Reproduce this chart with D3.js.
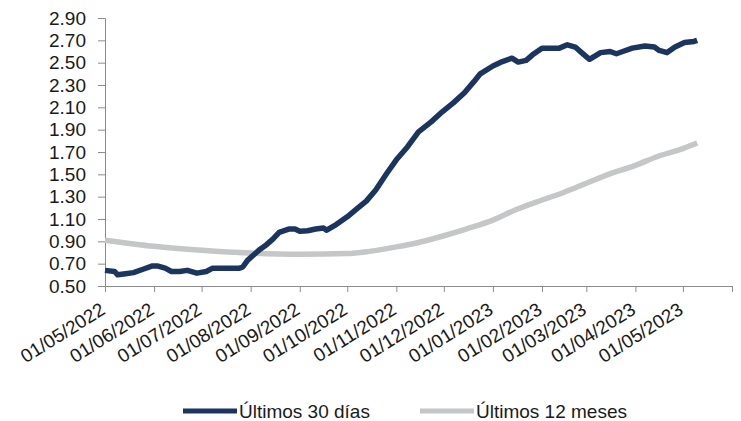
<!DOCTYPE html>
<html>
<head>
<meta charset="utf-8">
<script src="https://cdn.jsdelivr.net/npm/d3@7/dist/d3.min.js"></script>
<style>
  html, body { margin: 0; padding: 0; background: #fff; }
  svg { display: block; }
  text { font-family: "Liberation Sans", Arial, sans-serif; fill: #1a1a1a; }
</style>
</head>
<body>
<svg id="chart" width="741" height="421"></svg>
<script>
// ---- Data ----
const seriesNames = ["Últimos 30 días", "Últimos 12 meses"];

const dates30 = ["2022-05-01","2022-05-07","2022-05-09","2022-05-14","2022-05-19","2022-05-25","2022-05-31","2022-06-03","2022-06-08","2022-06-12","2022-06-17","2022-06-22","2022-06-28","2022-07-04","2022-07-08","2022-07-25","2022-07-27","2022-07-30","2022-08-03","2022-08-07","2022-08-11","2022-08-15","2022-08-19","2022-08-25","2022-08-29","2022-09-01","2022-09-06","2022-09-11","2022-09-16","2022-09-18","2022-09-24","2022-10-01","2022-10-07","2022-10-13","2022-10-19","2022-10-26","2022-11-01","2022-11-08","2022-11-15","2022-11-23","2022-11-30","2022-12-07","2022-12-14","2022-12-20","2022-12-24","2023-01-01","2023-01-07","2023-01-13","2023-01-17","2023-01-22","2023-01-26","2023-02-01","2023-02-12","2023-02-17","2023-02-22","2023-02-26","2023-03-03","2023-03-10","2023-03-16","2023-03-20","2023-03-24","2023-03-30","2023-04-07","2023-04-13","2023-04-16","2023-04-21","2023-04-26","2023-05-02","2023-05-08","2023-05-10"];
const values30 = [0.64,0.63,0.60,0.61,0.62,0.65,0.68,0.68,0.66,0.63,0.63,0.64,0.615,0.63,0.66,0.66,0.67,0.73,0.78,0.83,0.87,0.92,0.98,1.01,1.01,0.99,0.995,1.01,1.02,1.00,1.05,1.12,1.19,1.26,1.36,1.51,1.63,1.745,1.88,1.97,2.06,2.14,2.23,2.33,2.40,2.47,2.51,2.54,2.505,2.52,2.57,2.63,2.63,2.66,2.64,2.59,2.53,2.59,2.60,2.58,2.60,2.63,2.65,2.64,2.61,2.59,2.64,2.68,2.69,2.70];

const dates12 = ["2022-05-01","2022-06-01","2022-07-01","2022-08-01","2022-09-01","2022-10-01","2022-10-15","2022-11-01","2022-11-15","2022-12-01","2022-12-15","2023-01-01","2023-01-15","2023-02-01","2023-02-15","2023-03-01","2023-03-15","2023-04-01","2023-04-15","2023-05-01","2023-05-10"];
const values12 = [0.91,0.855,0.82,0.795,0.785,0.79,0.81,0.85,0.89,0.95,1.01,1.09,1.18,1.27,1.34,1.42,1.50,1.58,1.66,1.73,1.78];

const yTicks = [0.50,0.70,0.90,1.10,1.30,1.50,1.70,1.90,2.10,2.30,2.50,2.70,2.90];
const xTickDates = ["2022-05-01","2022-06-01","2022-07-01","2022-08-01","2022-09-01","2022-10-01","2022-11-01","2022-12-01","2023-01-01","2023-02-01","2023-03-01","2023-04-01","2023-05-01","2023-06-01"];
const xTickLabels = ["01/05/2022","01/06/2022","01/07/2022","01/08/2022","01/09/2022","01/10/2022","01/11/2022","01/12/2022","01/01/2023","01/02/2023","01/03/2023","01/04/2023","01/05/2023",""];

// ---- Layout ----
const parse = d3.utcParse("%Y-%m-%d");
const svg = d3.select("#chart");
const mLeft = 105, mRight = 732, mTop = 18, mBottom = 286;

const x = d3.scaleUtc().domain([parse("2022-05-01"), parse("2023-06-01")]).range([mLeft, mRight]);
const y = d3.scaleLinear().domain([0.5, 2.9]).range([mBottom, mTop]);

const axisColor = "#8c8c8c";

// Y axis
const yAxis = svg.append("g").attr("transform", `translate(${mLeft},0)`)
  .call(d3.axisLeft(y).tickValues(yTicks).tickFormat(d3.format(".2f")).tickSize(7).tickPadding(12));
yAxis.select(".domain").attr("stroke", axisColor);
yAxis.selectAll(".tick line").attr("stroke", axisColor);
yAxis.selectAll(".tick text").attr("font-size", 19).attr("font-family", "Liberation Sans, Arial, sans-serif").attr("fill", "#1a1a1a");

// X axis
const xAxis = svg.append("g").attr("transform", `translate(0,${mBottom})`)
  .call(d3.axisBottom(x).tickValues(xTickDates.map(parse)).tickFormat((d, i) => xTickLabels[i]).tickSize(6).tickSizeOuter(0));
xAxis.select(".domain").attr("stroke", axisColor);
xAxis.selectAll(".tick line").attr("stroke", axisColor);
xAxis.selectAll(".tick text")
  .attr("font-size", 19)
  .attr("font-family", "Liberation Sans, Arial, sans-serif")
  .attr("fill", "#1a1a1a")
  .attr("text-anchor", "end")
  .attr("dy", null)
  .attr("y", 0)
  .attr("transform", "translate(1,27) rotate(-32)");

// Lines
const data30 = dates30.map((d, i) => ({ date: parse(d), value: values30[i] }));
const data12 = dates12.map((d, i) => ({ date: parse(d), value: values12[i] }));

const line30 = d3.line().x(d => x(d.date)).y(d => y(d.value)).curve(d3.curveLinear);
const line12 = d3.line().x(d => x(d.date)).y(d => y(d.value)).curve(d3.curveMonotoneX);

const c30 = "#1c355e", c12 = "#c4c6c8";

svg.append("path").datum(data12).attr("d", line12)
  .attr("fill", "none").attr("stroke", c12).attr("stroke-width", 5.5).attr("stroke-linejoin", "round");
svg.append("path").datum(data30).attr("d", line30)
  .attr("fill", "none").attr("stroke", c30).attr("stroke-width", 5.5).attr("stroke-linejoin", "round");

// Legend
const legend = [
  { name: seriesNames[0], color: c30, x0: 183 },
  { name: seriesNames[1], color: c12, x0: 420 }
];
const lg = svg.append("g");
legend.forEach(l => {
  lg.append("line").attr("x1", l.x0).attr("x2", l.x0 + 54).attr("y1", 411).attr("y2", 411)
    .attr("stroke", l.color).attr("stroke-width", 5);
  lg.append("text").attr("x", l.x0 + 56).attr("y", 411).attr("dy", "0.35em")
    .attr("font-size", 19).text(l.name);
});
</script>
</body>
</html>
